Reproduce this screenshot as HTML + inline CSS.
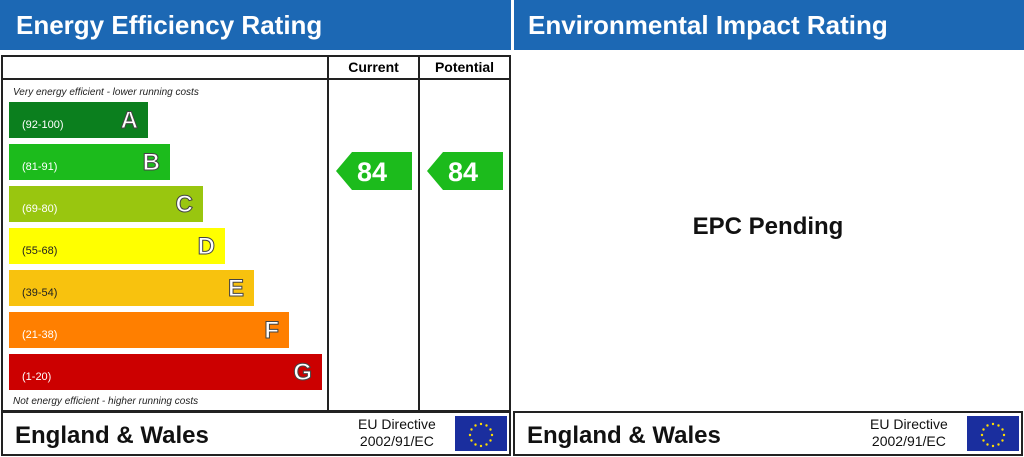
<!DOCTYPE html>
<html><head><style>
body{margin:0;width:1024px;height:457px;background:#fff;position:relative;font-family:"Liberation Sans",sans-serif;overflow:hidden}
.a{position:absolute}
.hd{background:#1c68b4;color:#fff;font-weight:bold;font-size:26px;height:50px;line-height:50px;top:0}
.bar{position:absolute;left:9px;height:36px;color:#fff}
.bar .r{position:absolute;left:13px;top:17px;font-size:11px}
.bar .l{position:absolute;right:10px;top:5px;font-size:24px;font-weight:bold;-webkit-text-stroke:1px #444}
.it{font-style:italic;font-size:10px;color:#222}
.foot{border:2px solid #222;box-sizing:border-box;height:45px;top:411px}
.ew{position:absolute;left:12px;top:9px;font-size:24px;font-weight:bold;color:#111}
.eu{position:absolute;text-align:center;font-size:14px;line-height:17px;color:#111;top:3px}
.flag{position:absolute;top:3px;width:52px;height:35px;background:#1a2e9e}
</style></head><body>
<div class="a hd" style="left:0;width:511px;padding-left:16px;box-sizing:border-box">Energy Efficiency Rating</div>
<div class="a hd" style="left:514px;width:510px;padding-left:14px;box-sizing:border-box">Environmental Impact Rating</div>

<div class="a" style="left:1px;top:55px;width:510px;height:357px;border:2px solid #222;box-sizing:border-box"></div>
<div class="a" style="left:1px;top:78px;width:510px;height:2px;background:#222"></div>
<div class="a" style="left:327px;top:55px;width:2px;height:357px;background:#222"></div>
<div class="a" style="left:418px;top:55px;width:2px;height:357px;background:#222"></div>
<div class="a" style="left:329px;top:59px;width:89px;text-align:center;font-weight:bold;font-size:14px">Current</div>
<div class="a" style="left:420px;top:59px;width:89px;text-align:center;font-weight:bold;font-size:14px">Potential</div>
<div class="a it" style="left:13px;top:87px">Very energy efficient - lower running costs</div>
<div class="a it" style="left:13px;top:396px">Not energy efficient - higher running costs</div>

<div class="bar" style="top:102px;width:139px;background:#0b7f1e"><span class="r">(92-100)</span><span class="l">A</span></div>
<div class="bar" style="top:144px;width:161px;background:#1cbb1c"><span class="r">(81-91)</span><span class="l">B</span></div>
<div class="bar" style="top:186px;width:194px;background:#99c60f"><span class="r">(69-80)</span><span class="l">C</span></div>
<div class="bar" style="top:228px;width:216px;background:#ffff00;color:#222"><span class="r">(55-68)</span><span class="l" style="color:#fff">D</span></div>
<div class="bar" style="top:270px;width:245px;background:#f8c20e;color:#222"><span class="r">(39-54)</span><span class="l" style="color:#fff">E</span></div>
<div class="bar" style="top:312px;width:280px;background:#ff7f00"><span class="r">(21-38)</span><span class="l">F</span></div>
<div class="bar" style="top:354px;width:313px;background:#cc0000"><span class="r">(1-20)</span><span class="l">G</span></div>

<svg class="a" style="left:336px;top:152px" width="76" height="38"><polygon points="0,19 16,0 76,0 76,38 16,38" fill="#1cbb1c"/><text x="36" y="29" font-size="27" font-weight="bold" fill="#fff" text-anchor="middle" font-family="Liberation Sans">84</text></svg>
<svg class="a" style="left:427px;top:152px" width="76" height="38"><polygon points="0,19 16,0 76,0 76,38 16,38" fill="#1cbb1c"/><text x="36" y="29" font-size="27" font-weight="bold" fill="#fff" text-anchor="middle" font-family="Liberation Sans">84</text></svg>

<div class="a" style="left:512px;top:213px;width:512px;text-align:center;font-weight:bold;font-size:24px;color:#111">EPC Pending</div>

<div class="a foot" style="left:1px;width:510px"><span class="ew">England &amp; Wales</span><div class="eu" style="left:355px">EU Directive<br>2002/91/EC</div><div class="flag" style="left:452px"></div></div>
<div class="a foot" style="left:513px;width:510px"><span class="ew">England &amp; Wales</span><div class="eu" style="left:355px">EU Directive<br>2002/91/EC</div><div class="flag" style="left:452px"></div></div>
<svg class="a" style="left:467px;top:421px" width="28" height="28"><g fill="#ffdd00"><circle cx="14" cy="3" r="1.2"/><circle cx="19.5" cy="4.5" r="1.2"/><circle cx="23.5" cy="8.5" r="1.2"/><circle cx="25" cy="14" r="1.2"/><circle cx="23.5" cy="19.5" r="1.2"/><circle cx="19.5" cy="23.5" r="1.2"/><circle cx="14" cy="25" r="1.2"/><circle cx="8.5" cy="23.5" r="1.2"/><circle cx="4.5" cy="19.5" r="1.2"/><circle cx="3" cy="14" r="1.2"/><circle cx="4.5" cy="8.5" r="1.2"/><circle cx="8.5" cy="4.5" r="1.2"/></g></svg>
<svg class="a" style="left:979px;top:421px" width="28" height="28"><g fill="#ffdd00"><circle cx="14" cy="3" r="1.2"/><circle cx="19.5" cy="4.5" r="1.2"/><circle cx="23.5" cy="8.5" r="1.2"/><circle cx="25" cy="14" r="1.2"/><circle cx="23.5" cy="19.5" r="1.2"/><circle cx="19.5" cy="23.5" r="1.2"/><circle cx="14" cy="25" r="1.2"/><circle cx="8.5" cy="23.5" r="1.2"/><circle cx="4.5" cy="19.5" r="1.2"/><circle cx="3" cy="14" r="1.2"/><circle cx="4.5" cy="8.5" r="1.2"/><circle cx="8.5" cy="4.5" r="1.2"/></g></svg>
</body></html>
